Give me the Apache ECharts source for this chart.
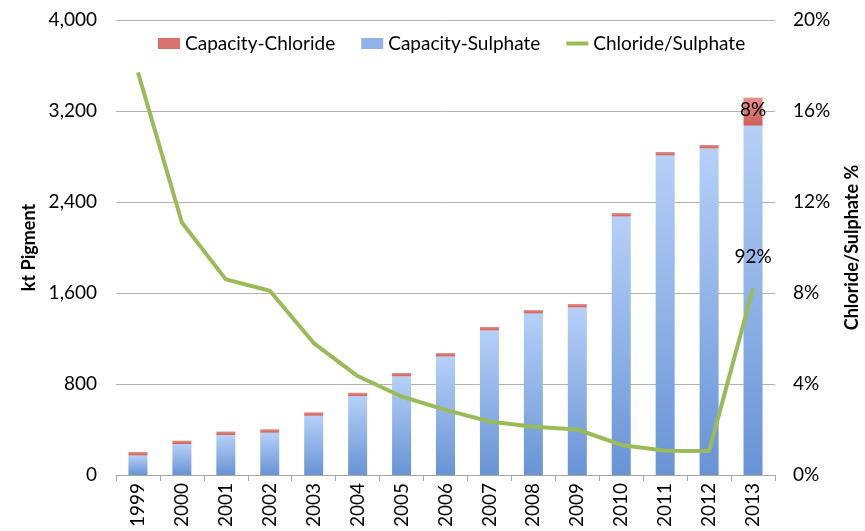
<!DOCTYPE html>
<html>
<head>
<meta charset="utf-8">
<script src="https://cdn.jsdelivr.net/npm/echarts@6/dist/echarts.min.js"></script>
<style>
html,body{margin:0;padding:0;background:#fff;}
#chart{width:865px;height:531px;}
</style>
</head>
<body>
<div id="chart"></div>
<script>
const years = ['1999','2000','2001','2002','2003','2004','2005','2006','2007','2008','2009','2010','2011','2012','2013'];
const capacitySulphate = [172, 272, 352, 372, 521, 693, 867, 1042, 1271, 1420, 1473, 2273, 2810, 2871, 3071];
const capacityChloride = [30, 30, 30, 30, 30, 30, 30, 30, 30, 30, 30, 30, 30, 30, 246];
const chlorideRatio = [17.7, 11.1, 8.6, 8.1, 5.8, 4.35, 3.45, 2.86, 2.35, 2.12, 2.0, 1.32, 1.07, 1.05, 8.2];
const leftTicks = [0, 800, 1600, 2400, 3200, 4000];
const rightTicks = [0, 4, 8, 12, 16, 20];
const shareLabels = {index: 14, chloride: '8%', sulphate: '92%'};

const FONT = 'Lato';
const FS = 19;
const chart = echarts.init(document.getElementById('chart'));

const sulphateData = capacitySulphate.map((v, i) => i === shareLabels.index ? {
  value: v,
  label: {show: true, position: ['50%', 131], align: 'center', verticalAlign: 'middle',
          formatter: shareLabels.sulphate, color: '#000', fontSize: FS, fontFamily: FONT}
} : v);
const chlorideData = capacityChloride.map((v, i) => i === shareLabels.index ? {
  value: v,
  label: {show: true, position: 'inside', formatter: shareLabels.chloride,
          color: '#000', fontSize: FS, fontFamily: FONT, offset: [0, -2]}
} : v);

chart.setOption({
  animation: false,
  textStyle: {fontFamily: FONT},
  grid: {left: 116, right: 90, top: 20, bottom: 56, containLabel: false, outerBoundsMode: 'none'},
  legend: {
    top: 29, left: 153, itemGap: 26, itemWidth: 22, itemHeight: 11,
    textStyle: {fontFamily: FONT, fontSize: FS, color: '#000'},
    data: [
      {name: 'Capacity-Chloride', icon: 'rect', itemStyle: {color: '#d9716d'}},
      {name: 'Capacity-Sulphate', icon: 'rect', itemStyle: {color: '#8fb2ea'}},
      {name: 'Chloride/Sulphate', icon: 'path://M0,0h22v4h-22z', itemStyle: {color: '#9bbb59'}}
    ]
  },
  xAxis: {
    type: 'category', data: years,
    axisLine: {lineStyle: {color: '#a6a6a6', width: 1}},
    axisTick: {show: true, length: 6, lineStyle: {color: '#a6a6a6'}},
    axisLabel: {rotate: 90, margin: 8, fontSize: FS, color: '#000', fontFamily: FONT}
  },
  yAxis: [
    {
      type: 'value', min: leftTicks[0], max: leftTicks[leftTicks.length - 1], interval: 800,
      name: 'kt Pigment', nameLocation: 'middle', nameGap: 78, nameRotate: 90,
      nameTextStyle: {fontWeight: 'bold', fontSize: 18, color: '#000', fontFamily: FONT},
      axisLine: {show: false}, axisTick: {show: false},
      axisLabel: {margin: 19, fontSize: FS, color: '#000', fontFamily: FONT,
                  formatter: v => v.toLocaleString('en-US')},
      splitLine: {lineStyle: {color: '#b3b3b3', width: 1}}
    },
    {
      type: 'value', min: rightTicks[0], max: rightTicks[rightTicks.length - 1], interval: 4,
      position: 'right',
      name: 'Chloride/Sulphate %', nameLocation: 'middle', nameGap: 68, nameRotate: 90,
      nameTextStyle: {fontWeight: 'bold', fontSize: 18, color: '#000', fontFamily: FONT},
      axisLine: {show: false}, axisTick: {show: false},
      axisLabel: {margin: 18, fontSize: FS, color: '#000', fontFamily: FONT, formatter: '{value}%'},
      splitLine: {show: false}
    }
  ],
  series: [
    {
      name: 'Capacity-Sulphate', type: 'bar', stack: 'cap', barWidth: 19, yAxisIndex: 0,
      itemStyle: {color: new echarts.graphic.LinearGradient(0, 0, 0, 1, [
        {offset: 0, color: '#b6d0f8'}, {offset: 1, color: '#6893d5'}])},
      data: sulphateData
    },
    {
      name: 'Capacity-Chloride', type: 'bar', stack: 'cap', barWidth: 19, yAxisIndex: 0,
      itemStyle: {color: new echarts.graphic.LinearGradient(0, 0, 0, 1, [
        {offset: 0, color: '#e4908c'}, {offset: 1, color: '#cc5f5b'}])},
      data: chlorideData
    },
    {
      name: 'Chloride/Sulphate', type: 'line', yAxisIndex: 1,
      showSymbol: false, symbol: 'none',
      lineStyle: {color: '#9bbb59', width: 4}, itemStyle: {color: '#9bbb59'},
      data: chlorideRatio, z: 5
    }
  ]
});
</script>
</body>
</html>
